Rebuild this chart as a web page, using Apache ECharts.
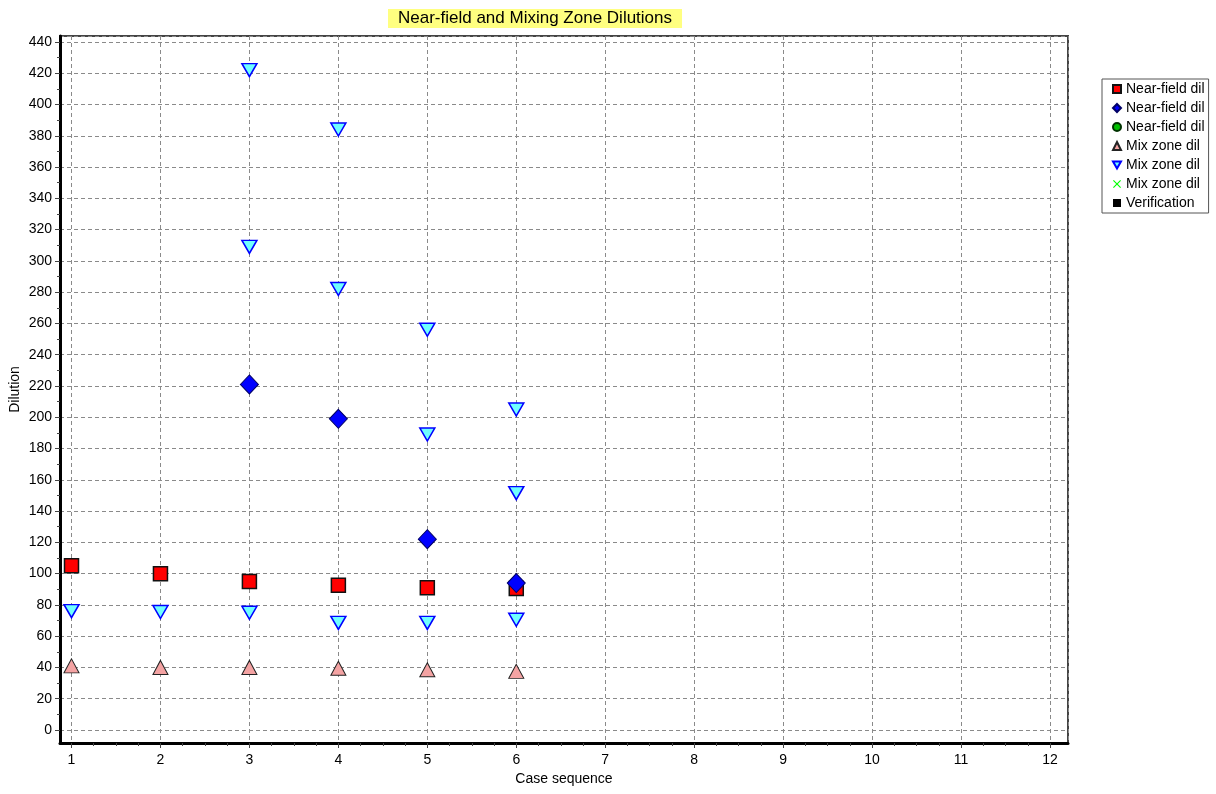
<!DOCTYPE html>
<html>
<head>
<meta charset="utf-8">
<script src="https://cdn.jsdelivr.net/npm/echarts@6/dist/echarts.min.js"></script>
<style>html,body{margin:0;padding:0;background:#fff;}#chart{width:1216px;height:794px;}</style>
</head>
<body>
<div id="chart"></div>
<script>
// ---- data ----
const titleText = 'Near-field and Mixing Zone Dilutions';
const xAxisName = 'Case sequence';
const yAxisName = 'Dilution';
const legendNames = ['Near-field dil', 'Near-field dil ', 'Near-field dil  ', 'Mix zone dil', 'Mix zone dil ', 'Mix zone dil  ', 'Verification'];

const nearFieldX = [1, 2, 3, 4, 5, 6];
const nearFieldY = [105, 100, 95, 92.5, 91, 90.5];

const nearField2X = [3, 4, 5, 6];
const nearField2Y = [221, 199, 122, 94];

const nearField3X = [];
const nearField3Y = [];

const mixZone1X = [1, 2, 3, 4, 5, 6];
const mixZone1Y = [41, 40, 40, 39.5, 38.5, 37.5];

const mixZone2X = [1, 2, 3, 3, 3, 4, 4, 4, 5, 5, 5, 6, 6, 6];
const mixZone2Y = [76, 75.5, 75, 309, 422, 68.5, 282, 384, 68.5, 189, 256, 70.5, 151.5, 205];

const mixZone3X = [];
const mixZone3Y = [];

const verificationX = [];
const verificationY = [];

const xTickMin = 1, xTickMax = 12, xTickStep = 1;
const yTickMin = 0, yTickMax = 440, yTickStep = 20;

// ---- layout ----
const frame = {left: 60, right: 1068, top: 36, bottom: 743};
const inner = {left: 71.5, right: 1050, top: 42, bottom: 730};
const pxPerX = (inner.right - inner.left) / (xTickMax - xTickMin);
const pxPerY = (inner.bottom - inner.top) / (yTickMax - yTickMin);
const xMinExt = xTickMin - (inner.left - frame.left) / pxPerX;
const xMaxExt = xTickMax + (frame.right - inner.right) / pxPerX;
const yMinExt = yTickMin - (frame.bottom - inner.bottom) / pxPerY;
const yMaxExt = yTickMax + (inner.top - frame.top) / pxPerY;

const pairs = (xs, ys) => xs.map((x, i) => [x, ys[i]]);
const FONT = 'Liberation Sans';
const downTri = 'path://M0,0L16,0L8,14Z';
const xShape = 'path://M0,1L1,0L5,4L9,0L10,1L6,5L10,9L9,10L5,6L1,10L0,9L4,5Z';
const gridLine = {color: '#8a8a8a', width: 1, type: [4, 3]};

const chart = echarts.init(document.getElementById('chart'), null, {renderer: 'canvas'});
chart.setOption({
  animation: false,
  backgroundColor: '#fff',
  textStyle: {fontFamily: FONT},
  title: {
    text: titleText,
    left: 388, top: 9,
    padding: [1, 10, 1, 10],
    backgroundColor: '#ffff80',
    textStyle: {fontFamily: FONT, fontSize: 17, fontWeight: 'normal', color: '#000'}
  },
  legend: {
    orient: 'vertical',
    left: 1102, top: 79,
    padding: [3, 4, 3, 10],
    itemGap: 5,
    itemWidth: 8, itemHeight: 8,
    borderColor: '#555', borderWidth: 1,
    backgroundColor: '#fff',
    selectedMode: false,
    formatter: n => n.trim(),
    textStyle: {fontFamily: FONT, fontSize: 14, color: '#000'},
    data: legendNames
  },
  grid: [
    {left: frame.left, top: frame.top, width: frame.right - frame.left, height: frame.bottom - frame.top,
     show: true, borderColor: '#444', borderWidth: 2, backgroundColor: 'transparent'},
    {left: inner.left, top: inner.top, width: inner.right - inner.left, height: inner.bottom - inner.top,
     show: false}
  ],
  xAxis: [
    {type: 'value', gridIndex: 0, min: xMinExt, max: xMaxExt, splitNumber: 11,
     name: xAxisName, nameLocation: 'middle', nameGap: 29,
     nameTextStyle: {fontFamily: FONT, fontSize: 14, color: '#000'},
     axisLine: {show: true, onZero: false, lineStyle: {color: '#000', width: 3}},
     axisTick: {show: false}, axisLabel: {show: false},
     splitLine: {show: true, lineStyle: gridLine}},
    {type: 'value', gridIndex: 1, min: xTickMin, max: xTickMax, interval: xTickStep, offset: frame.bottom - inner.bottom,
     axisLine: {show: false, onZero: false},
     axisTick: {show: true, length: 5, lineStyle: {color: '#444'}},
     minorTick: {show: true, splitNumber: 4, length: 3, lineStyle: {color: '#444'}},
     axisLabel: {show: true, margin: 10, fontFamily: FONT, fontSize: 14, color: '#000'},
     splitLine: {show: false}}
  ],
  yAxis: [
    {type: 'value', gridIndex: 0, min: yMinExt, max: yMaxExt, splitNumber: 22,
     name: yAxisName, nameLocation: 'middle', nameGap: 38,
     nameTextStyle: {fontFamily: FONT, fontSize: 14, color: '#000'},
     axisLine: {show: true, onZero: false, lineStyle: {color: '#000', width: 3}},
     axisTick: {show: false}, axisLabel: {show: false},
     splitLine: {show: true, lineStyle: gridLine}},
    {type: 'value', gridIndex: 1, min: yTickMin, max: yTickMax, interval: yTickStep, offset: inner.left - frame.left,
     axisLine: {show: false, onZero: false},
     axisTick: {show: true, length: 5, lineStyle: {color: '#444'}},
     minorTick: {show: true, splitNumber: 2, length: 3, lineStyle: {color: '#444'}},
     axisLabel: {show: true, margin: 8, fontFamily: FONT, fontSize: 14, color: '#000'},
     splitLine: {show: false}}
  ],
  series: [
    {name: legendNames[0], type: 'scatter', xAxisIndex: 0, yAxisIndex: 0, z: 3,
     symbol: 'rect', symbolSize: 14, data: pairs(nearFieldX, nearFieldY),
     itemStyle: {color: '#ff0000', borderColor: '#111', borderWidth: 1.5, opacity: 1}},
    {name: legendNames[1], type: 'scatter', xAxisIndex: 0, yAxisIndex: 0, z: 4,
     symbol: 'diamond', symbolSize: [18, 19], data: pairs(nearField2X, nearField2Y),
     itemStyle: {color: '#0000ff', borderColor: '#000066', borderWidth: 1, opacity: 1}},
    {name: legendNames[2], type: 'scatter', xAxisIndex: 0, yAxisIndex: 0,
     symbol: 'circle', symbolSize: 10, data: pairs(nearField3X, nearField3Y),
     itemStyle: {color: '#00c000', borderColor: '#003300', borderWidth: 1, opacity: 1}},
    {name: legendNames[3], type: 'scatter', xAxisIndex: 0, yAxisIndex: 0, z: 3,
     symbol: 'triangle', symbolSize: [15, 14], data: pairs(mixZone1X, mixZone1Y),
     itemStyle: {color: '#f4a3a3', borderColor: '#222', borderWidth: 1, opacity: 1}},
    {name: legendNames[4], type: 'scatter', xAxisIndex: 0, yAxisIndex: 0, z: 3,
     symbol: downTri, symbolSize: [15, 13], data: pairs(mixZone2X, mixZone2Y),
     itemStyle: {color: '#70ffff', borderColor: '#0000ff', borderWidth: 1.5, opacity: 1}},
    {name: legendNames[5], type: 'scatter', xAxisIndex: 0, yAxisIndex: 0,
     symbol: xShape, symbolSize: 10, data: pairs(mixZone3X, mixZone3Y),
     itemStyle: {color: '#00ff00', opacity: 1}},
    {name: legendNames[6], type: 'scatter', xAxisIndex: 0, yAxisIndex: 0,
     symbol: 'rect', symbolSize: 10, data: pairs(verificationX, verificationY),
     itemStyle: {color: '#000', opacity: 1}}
  ]
});
</script>
</body>
</html>
